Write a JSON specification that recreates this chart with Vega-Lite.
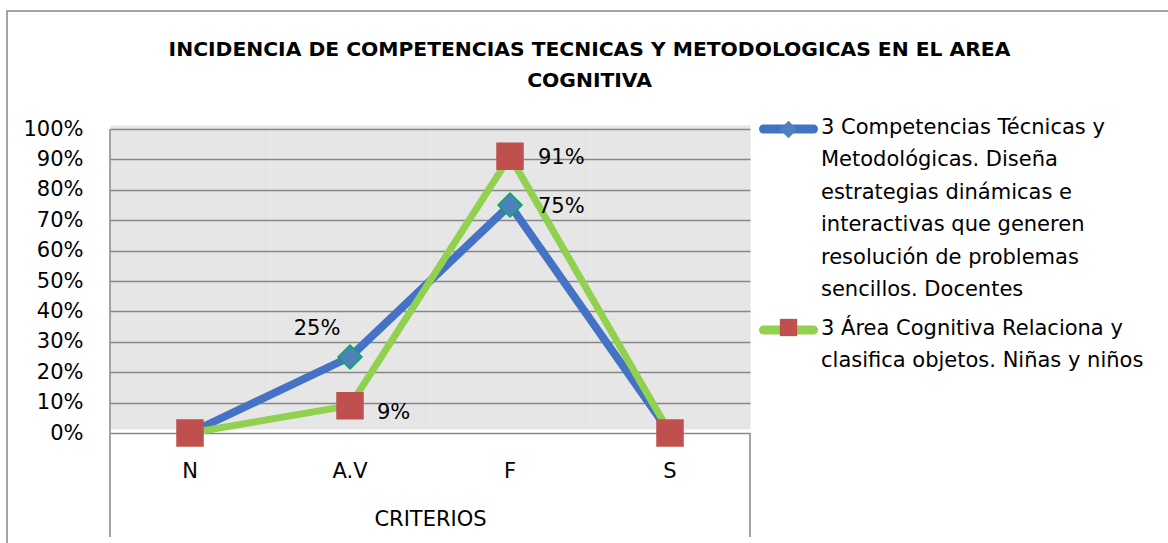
{
  "$schema": "https://vega.github.io/schema/vega-lite/v6.json",
  "width": 1165,
  "height": 536,
  "autosize": {"type": "none"},
  "padding": {"left": 7, "top": 11, "right": -4, "bottom": -4},
  "background": "white",
  "config": {
    "font": "DejaVu Sans",
    "view": {"stroke": "#878787", "strokeWidth": 1.5}
  },
  "resolve": {"scale": {"stroke": "independent"}},
  "title": {
    "text": ["INCIDENCIA DE COMPETENCIAS TECNICAS Y METODOLOGICAS EN EL AREA", "COGNITIVA"],
    "fontSize": 20.3,
    "fontWeight": "bold",
    "font": "DejaVu Sans",
    "color": "black",
    "lineHeight": 31,
    "anchor": "middle",
    "frame": "group",
    "offset": -80
  },
  "data": {
    "values": [
      {"criterio": "N", "serie": "3 Competencias Técnicas y Metodológicas. Diseña estrategias dinámicas e interactivas que generen resolución de problemas sencillos.  Docentes", "valor": 0},
      {"criterio": "A.V", "serie": "3 Competencias Técnicas y Metodológicas. Diseña estrategias dinámicas e interactivas que generen resolución de problemas sencillos.  Docentes", "valor": 0.25},
      {"criterio": "F", "serie": "3 Competencias Técnicas y Metodológicas. Diseña estrategias dinámicas e interactivas que generen resolución de problemas sencillos.  Docentes", "valor": 0.75},
      {"criterio": "S", "serie": "3 Competencias Técnicas y Metodológicas. Diseña estrategias dinámicas e interactivas que generen resolución de problemas sencillos.  Docentes", "valor": 0},
      {"criterio": "N", "serie": "3 Área Cognitiva Relaciona y clasifica objetos. Niñas y niños", "valor": 0},
      {"criterio": "A.V", "serie": "3 Área Cognitiva Relaciona y clasifica objetos. Niñas y niños", "valor": 0.09},
      {"criterio": "F", "serie": "3 Área Cognitiva Relaciona y clasifica objetos. Niñas y niños", "valor": 0.91},
      {"criterio": "S", "serie": "3 Área Cognitiva Relaciona y clasifica objetos. Niñas y niños", "valor": 0}
    ]
  },
  "encoding": {
    "x": {
      "field": "criterio",
      "type": "nominal",
      "scale": {"domain": ["N", "A.V", "F", "S"], "range": [103, 743], "paddingInner": 0, "paddingOuter": 0},
      "axis": {
        "orient": "bottom",
        "offset": -114,
        "domain": false,
        "ticks": false,
        "grid": true,
        "gridColor": "#e6e6e6",
        "gridWidth": 160,
        "gridOpacity": 1,
        "bandPosition": 0.5,
        "labelAngle": 0,
        "labelFontSize": 21,
        "labelColor": "black",
        "labelPadding": 27,
        "title": "CRITERIOS",
        "titleFontSize": 21,
        "titleFontWeight": "normal",
        "titleColor": "black",
        "titlePadding": 27
      }
    },
    "y": {
      "field": "valor",
      "type": "quantitative",
      "scale": {"domain": [0, 1], "range": [422, 118]},
      "axis": {
        "orient": "left",
        "offset": -103,
        "values": [0, 0.1, 0.2, 0.3, 0.4, 0.5, 0.6, 0.7, 0.8, 0.9, 1],
        "format": ".0%",
        "domain": false,
        "ticks": false,
        "grid": true,
        "gridColor": "#878787",
        "gridWidth": 1.5,
        "labelFontSize": 21,
        "labelColor": "black",
        "labelPadding": 27,
        "title": null
      }
    }
  },
  "layer": [
    {
      "transform": [{"filter": "datum.criterio == 'N' && indexof(datum.serie, 'Competencias') >= 0"}],
      "mark": {"type": "rule", "color": "#878787", "strokeWidth": 1.5},
      "encoding": {
        "x": {"field": "criterio", "type": "nominal", "bandPosition": 0},
        "y": {"datum": 1, "type": "quantitative"},
        "y2": {"datum": -0.342}
      }
    },
    {
      "transform": [{"filter": "datum.criterio == 'S' && indexof(datum.serie, 'Competencias') >= 0"}],
      "mark": {"type": "rule", "color": "#878787", "strokeWidth": 1.5},
      "encoding": {
        "x": {"field": "criterio", "type": "nominal", "bandPosition": 1},
        "y": {"datum": 0, "type": "quantitative"},
        "y2": {"datum": -0.342}
      }
    },
    {
      "mark": {"type": "line", "strokeJoin": "round", "strokeCap": "round"},
      "encoding": {
        "stroke": {
          "field": "serie",
          "type": "nominal",
          "scale": {
            "domain": [
              "3 Competencias Técnicas y Metodológicas. Diseña estrategias dinámicas e interactivas que generen resolución de problemas sencillos.  Docentes",
              "3 Área Cognitiva Relaciona y clasifica objetos. Niñas y niños"
            ],
            "range": ["#4472c4", "#92d050"]
          },
          "legend": {
            "orient": "none",
            "legendX": 752,
            "legendY": 108,
            "zindex": 0,
            "title": null,
            "padding": 0,
            "symbolType": "stroke",
            "symbolSize": 2500,
            "symbolStrokeWidth": 9,
            "labelFontSize": 21,
            "labelColor": "black",
            "labelBaseline": "top",
            "labelOffset": 3,
            "labelLimit": 0,
            "rowPadding": 12,
            "labelExpr": "indexof(datum.value, 'Competencias') >= 0 ? ['3 Competencias Técnicas y', 'Metodológicas. Diseña', 'estrategias dinámicas e', 'interactivas que generen', 'resolución de problemas', 'sencillos.  Docentes'] : ['3 Área Cognitiva Relaciona y', 'clasifica objetos. Niñas y niños']",
            "encode": {
              "labels": {"update": {"lineHeight": {"value": 32.4}, "y": {"value": 10}, "dy": {"value": -12}}},
              "symbols": {"update": {"strokeCap": {"value": "round"}, "y": {"value": 10}}}
            }
          }
        },
        "strokeWidth": {"condition": {"test": "indexof(datum.serie || datum.value, 'Competencias') >= 0", "value": 8}, "value": 7}
      }
    },
    {
      "mark": {"type": "point", "filled": true, "opacity": 1, "strokeWidth": 1.5},
      "encoding": {
        "shape": {
          "field": "serie",
          "type": "nominal",
          "scale": {"range": ["diamond", "square"]},
          "legend": {
            "orient": "none",
            "legendX": 772,
            "legendY": 109,
            "zindex": 2,
            "title": null,
            "padding": 0,
            "symbolSize": 300,
            "symbolStrokeWidth": 1.5,
            "labelFontSize": 1,
            "labelOpacity": 0,
            "labelLimit": 0,
            "rowPadding": 173,
            "labelExpr": "''",
            "encode": {
              "symbols": {"update": {"stroke": {"signal": "indexof(datum.value, 'Competencias') >= 0 ? '#00b050' : '#c0504d'"}, "strokeWidth": {"value": 1.5}}}
            }
          }
        },
        "fill": {
          "field": "serie",
          "type": "nominal",
          "scale": {"range": ["#4f81bd", "#c0504d"]},
          "legend": {
            "orient": "none",
            "legendX": 772,
            "legendY": 109,
            "zindex": 2,
            "title": null,
            "padding": 0,
            "symbolSize": 300,
            "symbolStrokeWidth": 1.5,
            "labelFontSize": 1,
            "labelOpacity": 0,
            "labelLimit": 0,
            "rowPadding": 173,
            "labelExpr": "''",
            "encode": {
              "symbols": {"update": {"stroke": {"signal": "indexof(datum.value, 'Competencias') >= 0 ? '#00b050' : '#c0504d'"}, "strokeWidth": {"value": 1.5}}}
            }
          }
        },
        "stroke": {
          "field": "serie",
          "type": "nominal",
          "scale": {"range": ["#00b050", "#c0504d"]},
          "legend": null
        },
        "size": {"condition": {"test": "indexof(datum.serie || datum.value, 'Competencias') >= 0", "value": 576}, "value": 676}
      }
    },
    {
      "transform": [{"filter": "datum.criterio == 'A.V' && indexof(datum.serie, 'Competencias') >= 0"}],
      "mark": {"type": "text", "fontSize": 21, "color": "black", "align": "center", "baseline": "middle", "dx": -33, "dy": -28},
      "encoding": {
        "text": {"field": "valor", "type": "quantitative", "format": ".0%"}
      }
    },
    {
      "transform": [{"filter": "datum.criterio == 'F'"}],
      "mark": {"type": "text", "fontSize": 21, "color": "black", "align": "left", "baseline": "middle", "dx": 28, "dy": 2},
      "encoding": {
        "text": {"field": "valor", "type": "quantitative", "format": ".0%"}
      }
    },
    {
      "transform": [{"filter": "datum.criterio == 'A.V' && indexof(datum.serie, 'Área') >= 0"}],
      "mark": {"type": "text", "fontSize": 21, "color": "black", "align": "left", "baseline": "middle", "dx": 27, "dy": 7},
      "encoding": {
        "text": {"field": "valor", "type": "quantitative", "format": ".0%"}
      }
    }
  ]
}
